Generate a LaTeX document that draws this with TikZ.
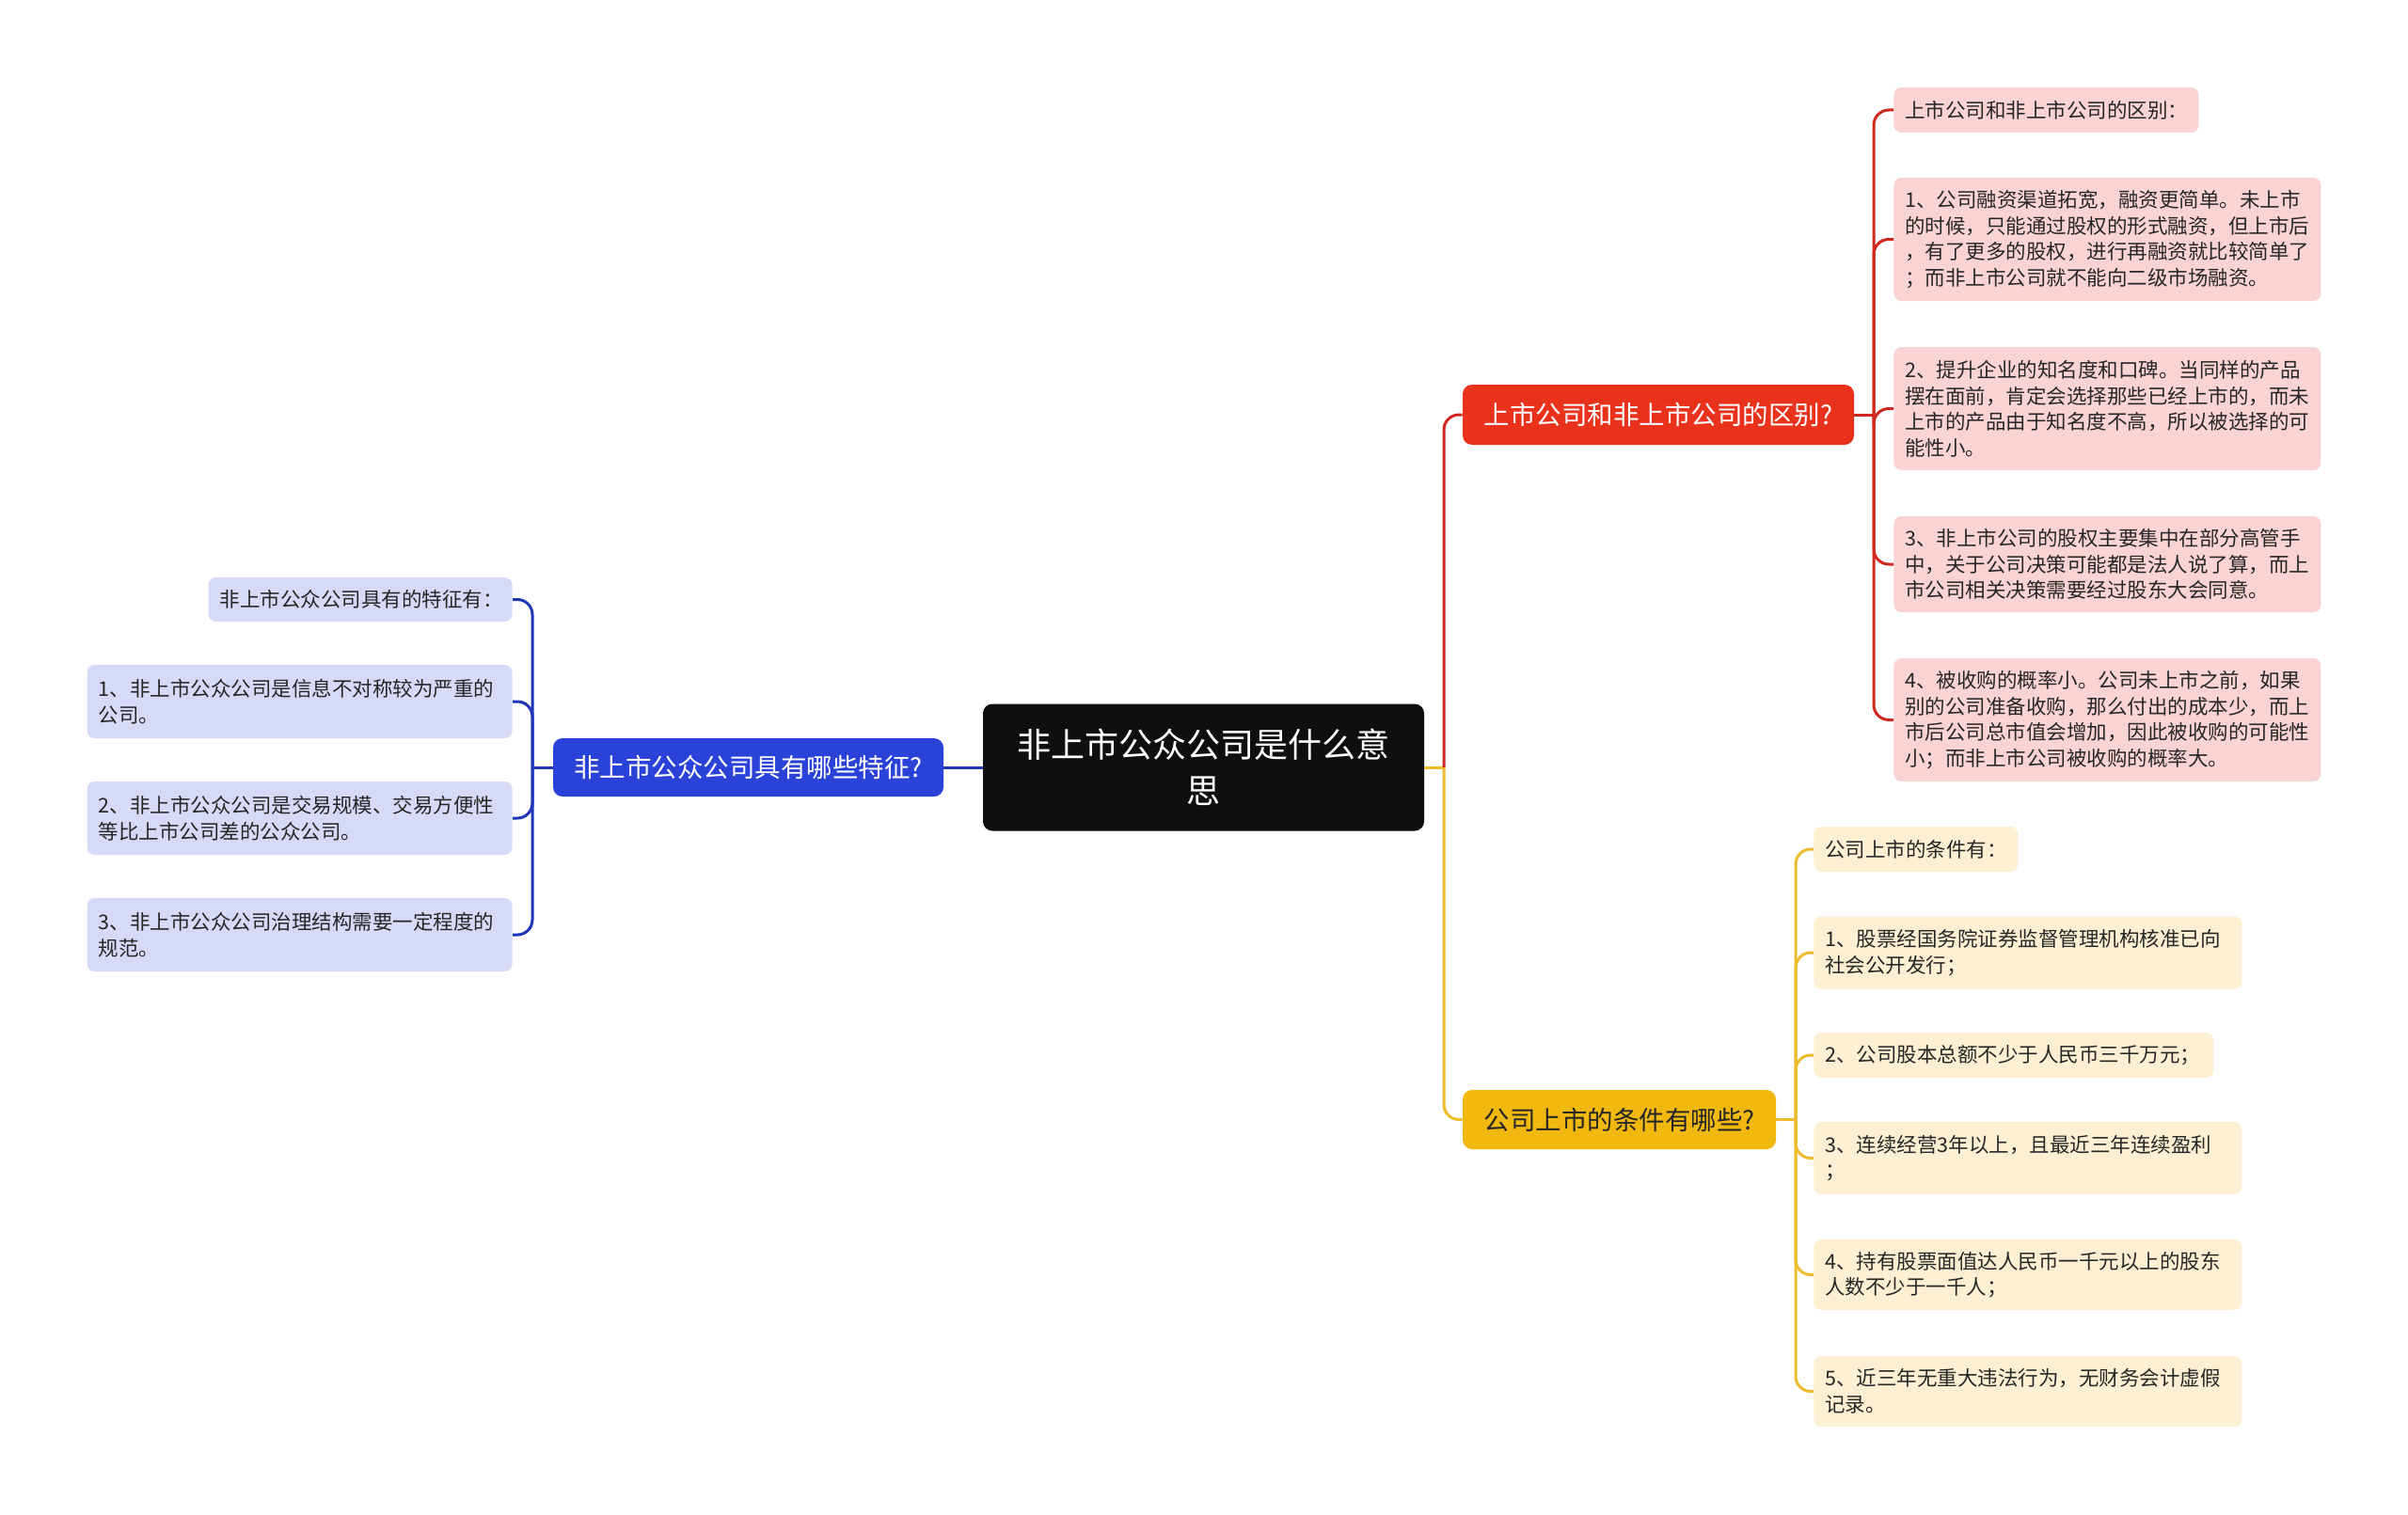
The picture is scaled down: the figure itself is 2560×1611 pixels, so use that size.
\documentclass[tikz,border=0pt]{standalone}
\usepackage{fontspec}
\setmainfont{Noto Sans CJK SC}
\definecolor{rootfill}{HTML}{0F0F0F}
\definecolor{redfill}{HTML}{E8321C}
\definecolor{redline}{HTML}{D0281F}
\definecolor{yelfill}{HTML}{F1B910}
\definecolor{yelline}{HTML}{EDBB2E}
\definecolor{bluefill}{HTML}{2A42D8}
\definecolor{blueline}{HTML}{1F36B8}
\definecolor{pinkleaf}{HTML}{FAD4D2}
\definecolor{yelleaf}{HTML}{FDF0D2}
\definecolor{blueleaf}{HTML}{D6DAF6}
\definecolor{textdark}{HTML}{262626}
\begin{document}
\begin{tikzpicture}[x=0.5pt,y=-0.5pt,
  leafbox/.style={rounded corners=4pt, inner xsep=6pt, inner ysep=0pt, align=left,
    text=textdark, font=\fontsize{10.75}{13.75}\selectfont},
  redleaf/.style={leafbox, anchor=west, fill=pinkleaf},
  yelleafbox/.style={leafbox, anchor=west, fill=yelleaf},
  blueleafbox/.style={leafbox, anchor=east, fill=blueleaf},
  topicbox/.style={rounded corners=5pt, inner sep=0pt, align=center,
    font=\fontsize{13.75}{16}\selectfont},
  rootbox/.style={rounded corners=5pt, inner sep=0pt, align=center, fill=rootfill,
    text=white, font=\fontsize{18}{24.5}\selectfont},
  conn/.style={line width=1.5pt, rounded corners=8pt}
]
\useasboundingbox (0,0) rectangle (2560,1611);
\fill[white] (0,0) rectangle (2560,1611);

% root and main topics
\node[rootbox, minimum width=234.5pt, minimum height=67.5pt] (root) at (1279.5,816) {非上市公众公司是什么意\\思};
\node[topicbox, fill=bluefill, text=white, minimum width=207.5pt, minimum height=31pt] (bq) at (795.5,816) {非上市公众公司具有哪些特征?};
\node[topicbox, fill=redfill, text=white, minimum width=208pt, minimum height=32pt] (rq) at (1763,441) {上市公司和非上市公司的区别?};
\node[topicbox, fill=yelfill, text=textdark, minimum width=166.5pt, minimum height=31.5pt] (yq) at (1721.5,1190.5) {公司上市的条件有哪些?};

% red leaves
\node[redleaf, text width=150pt, minimum height=24pt] (r0) at (2013,117) {上市公司和非上市公司的区别：};
\node[redleaf, text width=215pt, minimum height=65.5pt] (r1) at (2013,254.5) {1、公司融资渠道拓宽，融资更简单。未上市\\的时候，只能通过股权的形式融资，但上市后\\，有了更多的股权，进行再融资就比较简单了\\；而非上市公司就不能向二级市场融资。};
\node[redleaf, text width=215pt, minimum height=65.5pt] (r2) at (2013,434.5) {2、提升企业的知名度和口碑。当同样的产品\\摆在面前，肯定会选择那些已经上市的，而未\\上市的产品由于知名度不高，所以被选择的可\\能性小。};
\node[redleaf, text width=215pt, minimum height=51pt] (r3) at (2013,600) {3、非上市公司的股权主要集中在部分高管手\\中，关于公司决策可能都是法人说了算，而上\\市公司相关决策需要经过股东大会同意。};
\node[redleaf, text width=215pt, minimum height=65.5pt] (r4) at (2013,765.5) {4、被收购的概率小。公司未上市之前，如果\\别的公司准备收购，那么付出的成本少，而上\\市后公司总市值会增加，因此被收购的可能性\\小；而非上市公司被收购的概率大。};

% yellow leaves
\node[yelleafbox, text width=96.5pt, minimum height=24pt] (y0) at (1928,903) {公司上市的条件有：};
\node[yelleafbox, text width=215.5pt, minimum height=38.5pt] (y1) at (1928,1013) {1、股票经国务院证券监督管理机构核准已向\\社会公开发行；};
\node[yelleafbox, text width=200.5pt, minimum height=24pt] (y2) at (1928,1122) {2、公司股本总额不少于人民币三千万元；};
\node[yelleafbox, text width=215.5pt, minimum height=38.5pt] (y3) at (1928,1231.5) {3、连续经营3年以上，且最近三年连续盈利\\；};
\node[yelleafbox, text width=215.5pt, minimum height=37.5pt] (y4) at (1928,1355.5) {4、持有股票面值达人民币一千元以上的股东\\人数不少于一千人；};
\node[yelleafbox, text width=215.5pt, minimum height=37.5pt] (y5) at (1928,1479.5) {5、近三年无重大违法行为，无财务会计虚假\\记录。};

% blue leaves
\node[blueleafbox, text width=149.5pt, minimum height=23.5pt] (b0) at (545,637.5) {非上市公众公司具有的特征有：};
\node[blueleafbox, text width=214pt, minimum height=39pt] (b1) at (545,746) {1、非上市公众公司是信息不对称较为严重的\\公司。};
\node[blueleafbox, text width=214pt, minimum height=39pt] (b2) at (545,870) {2、非上市公众公司是交易规模、交易方便性\\等比上市公司差的公众公司。};
\node[blueleafbox, text width=214pt, minimum height=39pt] (b3) at (545,994) {3、非上市公众公司治理结构需要一定程度的\\规范。};

% junction coordinates
\coordinate (rj) at (1535,816);
\coordinate (rs) at (1992,441);
\coordinate (ys) at (1909,1190.5);
\coordinate (bs) at (566,816);

% connectors
\draw[conn, blueline] (root.west) -- (bq.east);
\draw[conn, yelline] (root.east) -- (rj);
\draw[conn, redline] (rj) |- (rq.west);
\draw[conn, yelline] (rj) |- (yq.west);

\draw[conn, redline] (rq.east) -- (rs);
\foreach \n in {r0,r1,r2,r3,r4} { \draw[conn, redline] (rs) |- (\n.west); }

\draw[conn, yelline] (yq.east) -- (ys);
\foreach \n in {y0,y1,y2,y3,y4,y5} { \draw[conn, yelline] (ys) |- (\n.west); }

\draw[conn, blueline] (bq.west) -- (bs);
\foreach \n in {b0,b1,b2,b3} { \draw[conn, blueline] (bs) |- (\n.east); }
\end{tikzpicture}
\end{document}
